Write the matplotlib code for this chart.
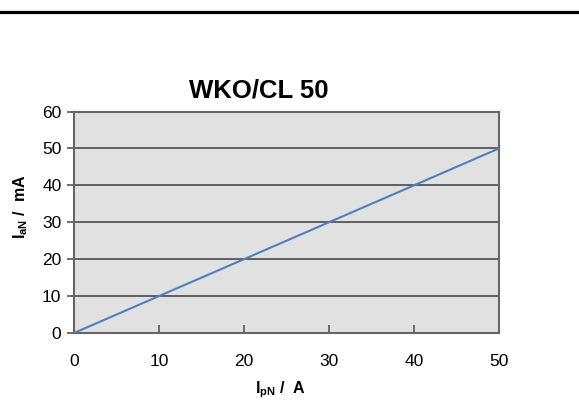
import matplotlib
matplotlib.use("Agg")
import matplotlib.pyplot as plt
from matplotlib.lines import Line2D

plt.rcParams['font.family'] = ['Liberation Sans', 'DejaVu Sans']
plt.rcParams['mathtext.fontset'] = 'custom'
plt.rcParams['mathtext.rm'] = 'Liberation Sans'
plt.rcParams['mathtext.bf'] = 'Liberation Sans:bold'

# data
primary_current = [0, 50]      # I_pN / A
secondary_current = [0, 50]    # I_aN / mA
x_ticks = [0, 10, 20, 30, 40, 50]
y_ticks = [0, 10, 20, 30, 40, 50, 60]
title = "WKO/CL 50"

fig = plt.figure(figsize=(5.79, 4.03), dpi=100)
ax = fig.add_axes([0.1278, 0.1737, 0.734, 0.5496])
ax.set_facecolor('#e1e1e1')

ax.plot(primary_current, secondary_current, color='#4f7fc0', lw=1.5, zorder=3)

ax.set_xlim(0, 50)
ax.set_ylim(0, 60)
ax.set_xticks(x_ticks)
ax.set_yticks(y_ticks)
ax.tick_params(axis='x', direction='in', length=6, width=1.2, color='#555555',
               labelsize=12.5, pad=15)
ax.tick_params(axis='y', direction='out', length=5, width=1.2, color='#555555',
               labelsize=12.5, pad=4)
ax.grid(axis='y', color='#555555', lw=1.3)
for s in ax.spines.values():
    s.set_color('#666666')
    s.set_linewidth(1.5)

fig.text(0.447, 0.757, title, ha='center', va='baseline', fontsize=18.5, fontweight='bold')
fig.text(0.485, 0.025, r'I$_{\mathbf{pN}}$ /  A', ha='center', va='baseline',
         fontsize=11.5, fontweight='bold')
fig.text(0.035, 0.486, r'I$_{\mathbf{aN}}$ /  mA', ha='center', va='center',
         rotation=90, fontsize=11.5, fontweight='bold')

# black rule at the top of the page
fig.add_artist(Line2D([0, 1], [1 - 11.5 / 403] * 2, color='black', lw=2.3,
                      transform=fig.transFigure))

fig.savefig('out.png', dpi=100)
